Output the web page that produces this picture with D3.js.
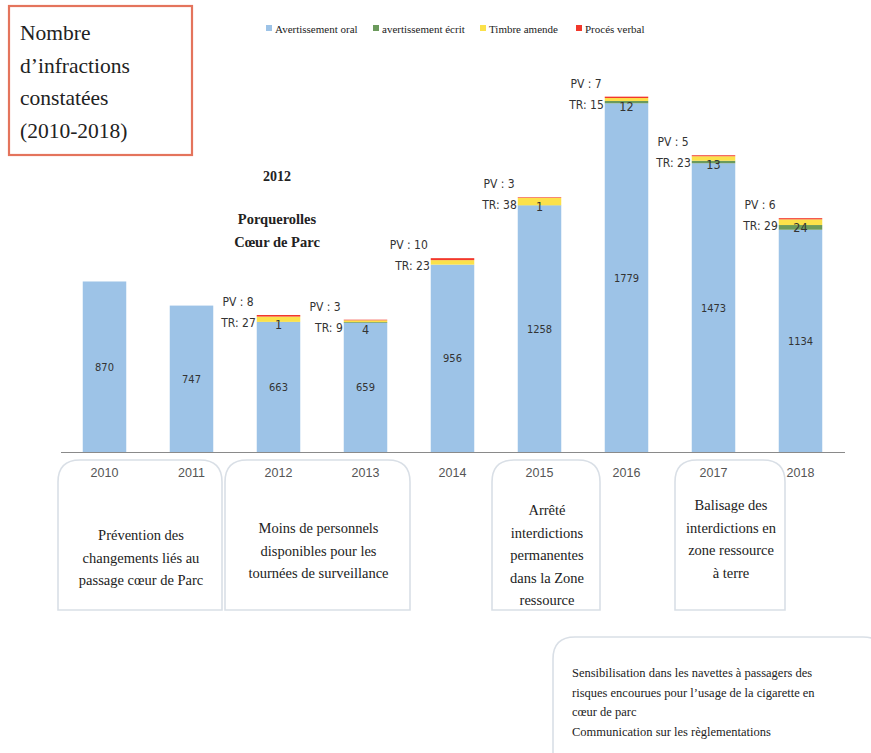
<!DOCTYPE html>
<html>
<head>
<meta charset="utf-8">
<title>Nombre d’infractions constatées</title>
<script src="https://d3js.org/d3.v7.min.js"></script>
<style>
  body { margin: 0; background: #fff; }
  text { fill: #222; }
  .serif { font-family: "Liberation Serif", "Times New Roman", serif; }
  .narrow { font-family: "DejaVu Sans Condensed", "DejaVu Sans", sans-serif; font-stretch: condensed; }
</style>
</head>
<body>
<div id="chart"></div>
<script>
// data
var years  = ["2010", "2011", "2012", "2013", "2014", "2015", "2016", "2017", "2018"];
var oral   = [870, 747, 663, 659, 956, 1258, 1779, 1473, 1134];   // Avertissement oral
var ecrit  = [0, 0, 1, 4, 0, 1, 12, 13, 24];                      // avertissement écrit
var timbre = [0, 0, 27, 9, 23, 38, 15, 23, 29];                   // Timbre amende
var pv     = [0, 0, 8, 3, 10, 3, 7, 5, 6];                        // Procès verbal
var seriesNames = ["Avertissement oral", "avertissement écrit", "Timbre amende", "Procés verbal"];
var seriesKeys = ["oral", "ecrit", "timbre", "pv"];
var colors = ["#9dc3e7", "#6b9a5c", "#fbe14a", "#f2382b"];

var titleLines = ["Nombre", "d’infractions", "constatées", "(2010-2018)"];

// boxes under the axis (x0, x1 are layout, in px)
var notes = [
  {x0: 58, x1: 222, lines: ["Prévention des", "changements liés au", "passage cœur de Parc"], y: 535},
  {x0: 225, x1: 410, lines: ["Moins de personnels", "disponibles pour les", "tournées de surveillance"], y: 528},
  {x0: 492, x1: 600, lines: ["Arrêté", "interdictions", "permanentes", "dans la Zone", "ressource"], y: 510},
  {x0: 675, x1: 785, lines: ["Balisage des", "interdictions en", "zone ressource", "à terre"], y: 505}
];
var bottomNote = ["Sensibilisation dans les navettes à passagers des",
                  "risques encourues pour l’usage de la cigarette en",
                  "cœur de parc",
                  "Communication sur les règlementations"];

var width = 871, height = 753;

var svg = d3.select("#chart").append("svg")
  .attr("width", width)
  .attr("height", height);

var rows = years.map(function(y, i) {
  return {year: y, oral: oral[i], ecrit: ecrit[i], timbre: timbre[i], pv: pv[i]};
});

var x = d3.scaleBand()
  .domain(years)
  .range([61, 844])
  .paddingInner(0.5)
  .paddingOuter(0.25);

var y = d3.scaleLinear()
  .domain([0, 2000])
  .range([452, 60]);

var stacked = d3.stack().keys(seriesKeys)(rows);

// title box
svg.append("rect")
  .attr("x", 9).attr("y", 6)
  .attr("width", 183).attr("height", 149)
  .attr("fill", "none")
  .attr("stroke", "#e4745c")
  .attr("stroke-width", 2.2);

svg.append("g").selectAll("text")
  .data(titleLines)
  .enter().append("text")
  .attr("class", "serif")
  .attr("x", 20)
  .attr("y", function(d, i) { return 40 + i * 32.5; })
  .style("font-size", "21.5px")
  .text(function(d) { return d; });

// legend
var legendX = [266, 373, 480, 576];
var legend = svg.append("g").selectAll("g")
  .data(seriesNames)
  .enter().append("g")
  .attr("transform", function(d, i) { return "translate(" + legendX[i] + ",25)"; });
legend.append("rect")
  .attr("width", 6).attr("height", 6)
  .attr("fill", function(d, i) { return colors[i]; });
legend.append("text")
  .attr("class", "serif")
  .attr("x", 9).attr("y", 8)
  .style("font-size", "11px")
  .text(function(d) { return d; });

// bars
svg.append("g").selectAll("g")
  .data(stacked)
  .enter().append("g")
  .attr("fill", function(d, i) { return colors[i]; })
  .selectAll("rect")
  .data(function(d) { return d; })
  .enter().append("rect")
  .attr("x", function(d) { return x(d.data.year); })
  .attr("y", function(d) { return y(d[1]); })
  .attr("width", x.bandwidth())
  .attr("height", function(d) { return y(d[0]) - y(d[1]); });

// axis line
svg.append("line")
  .attr("x1", 61).attr("x2", 845)
  .attr("y1", 452.5).attr("y2", 452.5)
  .attr("stroke", "#8a8a8a")
  .attr("stroke-width", 1.2);

// oral values in the middle of the blue part
svg.append("g").selectAll("text")
  .data(rows)
  .enter().append("text")
  .attr("class", "narrow")
  .attr("text-anchor", "middle")
  .attr("x", function(d) { return x(d.year) + x.bandwidth() / 2; })
  .attr("y", function(d) { return (y(0) + y(d.oral)) / 2 + 4; })
  .style("font-size", "11px")
  .style("fill", "#333")
  .text(function(d) { return d.oral; });

// écrit values near the top of the bar
svg.append("g").selectAll("text")
  .data(rows.filter(function(d) { return d.ecrit > 0; }))
  .enter().append("text")
  .attr("class", "narrow")
  .attr("text-anchor", "middle")
  .attr("x", function(d) { return x(d.year) + x.bandwidth() / 2; })
  .attr("y", function(d) { return y(d.oral + d.ecrit + d.timbre + d.pv) + 14; })
  .style("font-size", "12.5px")
  .style("fill", "#333")
  .text(function(d) { return d.ecrit; });

// TR / PV labels on the left of the bars
var side = svg.append("g").selectAll("g")
  .data(rows.filter(function(d) { return d.timbre > 0; }))
  .enter().append("g");
side.append("text")
  .attr("class", "narrow")
  .attr("text-anchor", "end")
  .attr("x", function(d) { return x(d.year) - 1; })
  .attr("y", function(d) { return y(d.oral + d.ecrit + d.timbre + d.pv) + 12; })
  .style("font-size", "12px")
  .style("fill", "#333")
  .text(function(d) { return "TR: " + d.timbre; });
side.append("text")
  .attr("class", "narrow")
  .attr("text-anchor", "end")
  .attr("x", function(d) { return x(d.year) - 3; })
  .attr("y", function(d) { return y(d.oral + d.ecrit + d.timbre + d.pv) - 9; })
  .style("font-size", "12px")
  .style("fill", "#333")
  .text(function(d) { return "PV : " + d.pv; });

// 2012 annotation
var ann = svg.append("g").attr("class", "serif")
  .style("font-weight", "bold")
  .attr("text-anchor", "middle");
ann.append("text").attr("x", 277).attr("y", 181).style("font-size", "14px").text("2012");
ann.append("text").attr("x", 277).attr("y", 224).style("font-size", "14.5px").text("Porquerolles");
ann.append("text").attr("x", 277).attr("y", 247).style("font-size", "14.5px").text("Cœur de Parc");

// note boxes
function boxPath(x0, y0, x1, y1, r) {
  return "M" + x0 + "," + y1 +
    "L" + x0 + "," + (y0 + r) +
    "Q" + x0 + "," + y0 + " " + (x0 + r) + "," + y0 +
    "L" + (x1 - r) + "," + y0 +
    "Q" + x1 + "," + y0 + " " + x1 + "," + (y0 + r) +
    "L" + x1 + "," + y1 + "Z";
}

var boxes = svg.append("g").selectAll("g")
  .data(notes)
  .enter().append("g");
boxes.append("path")
  .attr("d", function(d) { return boxPath(d.x0, 460, d.x1, 610, 22); })
  .attr("fill", "none")
  .attr("stroke", "#d9dfe6")
  .attr("stroke-width", 1.6);
boxes.each(function(d) {
  d3.select(this).selectAll("text.note")
    .data(d.lines)
    .enter().append("text")
    .attr("class", "serif note")
    .attr("text-anchor", "middle")
    .attr("x", (d.x0 + d.x1) / 2 + 1)
    .attr("y", function(t, i) { return d.y + 5 + i * 22.5; })
    .style("font-size", "14.5px")
    .text(function(t) { return t; });
});

// year labels
svg.append("g").selectAll("text")
  .data(years)
  .enter().append("text")
  .attr("text-anchor", "middle")
  .attr("x", function(d) { return x(d) + x.bandwidth() / 2; })
  .attr("y", 477)
  .style("font-size", "12.5px")
  .style("fill", "#555")
  .style("font-family", "Liberation Sans, sans-serif")
  .text(function(d) { return d; });

// bottom note box
svg.append("path")
  .attr("d", boxPath(553, 637, 885, 770, 22))
  .attr("fill", "none")
  .attr("stroke", "#d9dfe6")
  .attr("stroke-width", 1.6);
svg.append("g").selectAll("text")
  .data(bottomNote)
  .enter().append("text")
  .attr("class", "serif")
  .attr("x", 572)
  .attr("y", function(d, i) { return 677 + i * 19.7; })
  .style("font-size", "12.5px")
  .text(function(d) { return d; });
</script>
</body>
</html>
